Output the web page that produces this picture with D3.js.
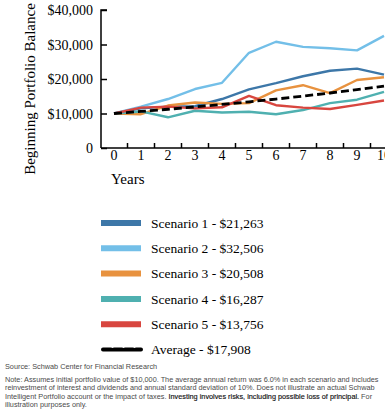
<!DOCTYPE html>
<html>
<head>
<meta charset="utf-8">
<script src="https://cdn.jsdelivr.net/npm/d3@7"></script>
<style>
  body { margin: 0; background: #fff; }
  svg { display: block; }
  .axis text { font-family: "Liberation Serif", "Times New Roman", serif; font-size: 14px; fill: #000; }
  .axis path, .axis line { stroke: #000; stroke-width: 1.5; }
</style>
</head>
<body>
<svg id="chart" width="385" height="416"></svg>
<script>
const years = [0, 1, 2, 3, 4, 5, 6, 7, 8, 9, 10];
const yTicks = [0, 10000, 20000, 30000, 40000];

const scenario1 = [10000, 11500, 12000, 12100, 14200, 17000, 18800, 20800, 22400, 23000, 21263];
const scenario2 = [10000, 12000, 14200, 17100, 18900, 27600, 30800, 29300, 28900, 28300, 32506];
const scenario3 = [10000, 9800, 12300, 13200, 12800, 13000, 16700, 18200, 15900, 19700, 20508];
const scenario4 = [10000, 10600, 8900, 10800, 10300, 10500, 9800, 11000, 13000, 14000, 16287];
const scenario5 = [10000, 11700, 12000, 11500, 11800, 15100, 12400, 11700, 11300, 12500, 13756];
const average   = [10000, 10600, 11236, 11910, 12625, 13382, 14185, 15036, 15938, 16895, 17908];

const seriesNames = ["Scenario 1 - $21,263", "Scenario 2 - $32,506", "Scenario 3 - $20,508",
                     "Scenario 4 - $16,287", "Scenario 5 - $13,756", "Average - $17,908"];
const seriesColors = ["#3d77a8", "#73bfe8", "#e8923f", "#4fb0b0", "#d8463f", "#000"];

const series = [scenario1, scenario2, scenario3, scenario4, scenario5, average];

const svg = d3.select("#chart");

// scales
let x = d3.scaleLinear().domain([0, 10]).range([114, 384]);
let y = d3.scaleLinear().domain([0, 40000]).range([148, 10]);

// x axis: ticks sit between the year labels
let xAxisG = svg.append("g").attr("class", "axis");
xAxisG.append("line")
    .attr("x1", 101).attr("x2", 385)
    .attr("y1", y(0)).attr("y2", y(0));
xAxisG.selectAll(".tick-mark")
    .data(years.slice(0, -1))
    .enter().append("line")
    .attr("x1", d => x(d + 0.5)).attr("x2", d => x(d + 0.5))
    .attr("y1", y(0)).attr("y2", y(0) - 5);
xAxisG.selectAll(".tick-label")
    .data(years)
    .enter().append("text")
    .attr("x", d => x(d))
    .attr("y", 160)
    .attr("text-anchor", "middle")
    .text(d => d);

// y axis
let yAxis = d3.axisLeft(y)
    .tickValues(yTicks)
    .tickSize(-6)
    .tickPadding(8)
    .tickFormat(d => d === 0 ? "0" : "$" + d3.format(",")(d));

svg.append("g")
    .attr("class", "axis")
    .attr("transform", "translate(101,0)")
    .call(yAxis)
    .call(g => g.select(".domain").attr("d", "M0," + y(0) + "V" + y(40000) + "H6"))
    .call(g => g.selectAll(".tick text").attr("dy", "0.35em"));

// lines
let line = d3.line()
    .x((d, i) => x(years[i]))
    .y(d => y(d));

series.forEach((s, i) => {
    let path = svg.append("path")
        .datum(s)
        .attr("fill", "none")
        .attr("stroke", seriesColors[i])
        .attr("stroke-width", i === 5 ? 2.8 : 2.4)
        .attr("stroke-linejoin", "round")
        .attr("d", line);
    if (i === 5) path.attr("stroke-dasharray", "8,4");
});

// axis titles
svg.append("text")
    .attr("transform", "translate(35,89) rotate(-90)")
    .attr("text-anchor", "middle")
    .style("font-family", "Liberation Serif, serif")
    .style("font-size", "15px")
    .text("Beginning Portfolio Balance");

svg.append("text")
    .attr("x", 111)
    .attr("y", 184)
    .style("font-family", "Liberation Serif, serif")
    .style("font-size", "15px")
    .text("Years");

// legend
let legend = svg.append("g").attr("transform", "translate(101,223)");
seriesNames.forEach((name, i) => {
    let row = legend.append("g").attr("transform", "translate(0," + (i * 25.3) + ")");
    let sw = row.append("line")
        .attr("x1", 0).attr("x2", 40)
        .attr("y1", 0).attr("y2", 0)
        .attr("stroke", seriesColors[i])
        .attr("stroke-width", i === 5 ? 4 : 6);
    if (i === 5) sw.attr("stroke-dasharray", "8,3").attr("stroke-linecap", "round").attr("x1", 2).attr("x2", 40);
    row.append("text")
        .attr("x", 50)
        .attr("y", 0)
        .attr("dy", "0.35em")
        .style("font-family", "Liberation Serif, serif")
        .style("font-size", "13.5px")
        .text(name);
});

// footnotes
let foot = svg.append("g")
    .style("font-family", "Liberation Sans, Arial, sans-serif")
    .style("font-size", "7.3px")
    .style("fill", "#4a4a4a");

foot.append("text").attr("x", 5).attr("y", 369)
    .text("Source: Schwab Center for Financial Research");

let noteLines = [
    [["Note: Assumes initial portfolio value of $10,000. The average annual return was 6.0% in each scenario and includes", false]],
    [["reinvestment of interest and dividends and annual standard deviation of 10%. Does not illustrate an actual Schwab", false]],
    [["Intelligent Portfolio account or the impact of taxes. ", false], ["Investing involves risks, including possible loss of principal.", true], [" For", false]],
    [["illustration purposes only.", false]]
];
noteLines.forEach((parts, i) => {
    let t = foot.append("text").attr("x", 5).attr("y", 382 + i * 8.3);
    parts.forEach(p => {
        t.append("tspan")
            .style("fill", p[1] ? "#111" : "#4a4a4a")
            .style("stroke", p[1] ? "#111" : "none")
            .style("stroke-width", p[1] ? 0.15 : 0)
            .text(p[0]);
    });
});
</script>
</body>
</html>
